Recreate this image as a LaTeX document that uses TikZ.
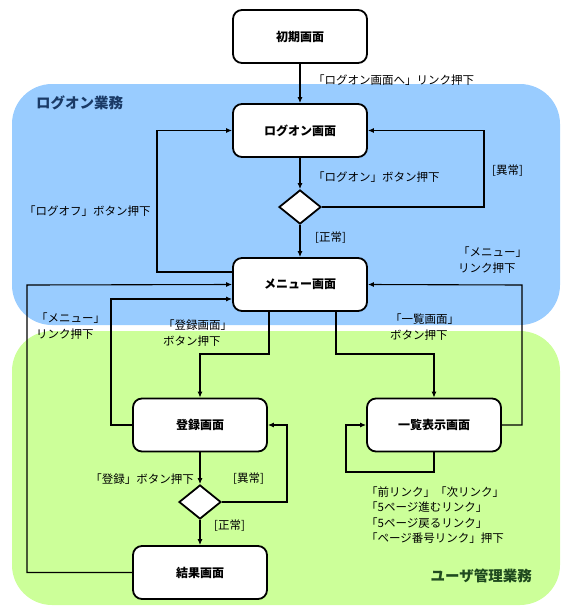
\documentclass[tikz,border=0pt]{standalone}
\usepackage{fontspec}
\newfontfamily\jp{Noto Sans CJK JP}
\usetikzlibrary{shapes.geometric,arrows.meta,calc}
\definecolor{zoneblue}{HTML}{99CCFF}
\definecolor{zonegreen}{HTML}{CCFF99}
\definecolor{bluetitle}{HTML}{1A3A66}
\definecolor{greentitle}{HTML}{1F4A1F}
\begin{document}
\begin{tikzpicture}[x=1pt,y=-1pt,
  screen/.style={draw,line width=1.8pt,rounded corners=9pt,fill=white,minimum width=134pt,minimum height=53pt,inner sep=0pt,font=\jp\bfseries\fontsize{12}{14}\selectfont},
  choice/.style={draw,shape=diamond,line width=1.8pt,fill=white,minimum width=42pt,minimum height=34pt,inner sep=0pt},
  flow/.style={line width=1.1pt,-{Latex[length=6pt,width=5pt]}},
  lbl/.style={font=\jp\fontsize{11.5}{15.5}\selectfont,inner sep=0pt,align=left},
  zonetitle/.style={font=\jp\bfseries\fontsize{14.5}{16}\selectfont,inner sep=0pt},
  zone/.style={rounded corners=40pt}]
\useasboundingbox (0,0) rectangle (574,614);
% zones
\fill[zoneblue,zone] (12,84) rectangle (560,325);
\fill[zonegreen,zone] (12,331) rectangle (560,605);
\node[zonetitle,anchor=west,text=bluetitle] (tlogon) at (36,103) {ログオン業務};
\node[zonetitle,anchor=east,text=greentitle] (tuser) at (532,576) {ユーザ管理業務};
% nodes
\node[screen] (init) at (300,36.5) {初期画面};
\node[screen] (logon) at (300,130.5) {ログオン画面};
\node[choice] (d1) at (300,207) {};
\node[screen] (menu) at (300,284.5) {メニュー画面};
\node[screen] (reg) at (200,425) {登録画面};
\node[screen] (list) at (434,425) {一覧表示画面};
\node[choice] (d2) at (200,502) {};
\node[screen] (result) at (200,572.5) {結果画面};
% helper coordinates
\coordinate (c1) at (484,207);
\coordinate (c2) at (157,272);
\coordinate (c3) at (27,285);
\coordinate (c4) at (111,299);
\coordinate (c5) at (269,354);
\coordinate (c6) at (336,354);
\coordinate (c7) at (522,285);
\coordinate (c8) at (346,472);
\coordinate (c9) at (287,502);
% connectors
\draw[flow] (init) -- (logon);
\draw[flow] (logon) -- (d1);
\draw[flow] (d1) -- (menu);
\draw[flow] (d1.east) -- (c1) |- (logon.east);
\draw[flow] ($(menu.west)+(0,-12.5)$) -- (c2) |- (logon.west);
\draw[flow] (result.west) -| (c3) -- (menu.west);
\draw[flow] (reg.west) -| (c4) -- ($(menu.west)+(0,14.5)$);
\draw[flow] ($(menu.south)+(-31,0)$) -- (c5) -| (reg.north);
\draw[flow] ($(menu.south)+(36,0)$) -- (c6) -| (list.north);
\draw[flow] (list.east) -| (c7) -- (menu.east);
\draw[flow] (list.south) |- (c8) |- (list.west);
\draw[flow] (reg) -- (d2);
\draw[flow] (d2.east) -- (c9) |- (reg.east);
\draw[flow] (d2) -- (result);
% labels
\node[lbl,anchor=west] (l1) at (313,80) {「ログオン画面へ」リンク押下};
\node[lbl,anchor=west] (l2) at (313,177) {「ログオン」ボタン押下};
\node[lbl,anchor=west] (l3) at (315,238) {[正常]};
\node[lbl,anchor=west] (l4) at (492,171) {[異常]};
\node[lbl,anchor=west] (l5) at (24,211) {「ログオフ」ボタン押下};
\node[lbl,anchor=west] (l6) at (458,260) {「メニュー」\\リンク押下};
\node[lbl,anchor=west] (l7) at (36,326) {「メニュー」\\リンク押下};
\node[lbl,anchor=west] (l8) at (163,333) {「登録画面」\\ボタン押下};
\node[lbl,anchor=west] (l9) at (390,327) {「一覧画面」\\ボタン押下};
\node[lbl,anchor=east] (l10) at (194,479) {「登録」ボタン押下};
\node[lbl,anchor=west] (l11) at (233,479) {[異常]};
\node[lbl,anchor=west] (l12) at (214,526) {[正常]};
\node[lbl,anchor=west] (l13) at (366,515) {「前リンク」「次リンク」\\「5ページ進むリンク」\\「5ページ戻るリンク」\\「ページ番号リンク」押下};
\end{tikzpicture}
\end{document}
